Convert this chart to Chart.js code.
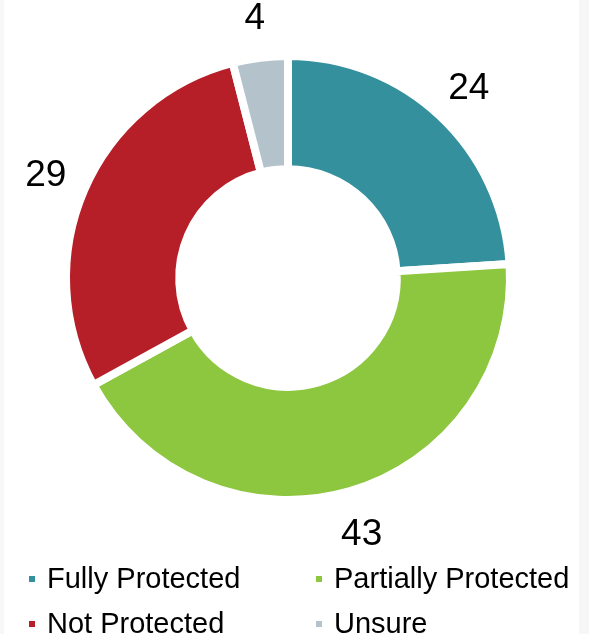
<!DOCTYPE html>
<html>
<head>
<meta charset="utf-8">
<script src="https://cdn.jsdelivr.net/npm/chart.js@4/dist/chart.umd.min.js"></script>
<style>
  html, body { margin: 0; padding: 0; background: #f7f7f7; }
  #wrap { position: relative; width: 589px; height: 634px; overflow: hidden; }
  #panel { position: absolute; left: 4px; top: 0; width: 575px; height: 634px; background: #fff; }
  #myChart { position: absolute; left: 0; top: 0; }
</style>
</head>
<body>
<div id="wrap">
  <div id="panel"></div>
  <canvas id="myChart" width="589" height="634"></canvas>
</div>
<script>
'use strict';

const categories = ['Fully Protected', 'Partially Protected', 'Not Protected', 'Unsure'];
const values = [24, 43, 29, 4];
const colors = ['#35909e', '#8dc63f', '#b71f28', '#b4c2cc'];

const FONT = '"Liberation Sans", Arial, sans-serif';

// numbers sitting just outside each slice
const outsideLabels = {
  id: 'outsideLabels',
  afterDatasetsDraw(chart) {
    const ctx = chart.ctx;
    const meta = chart.getDatasetMeta(0);
    const fs = 37;
    ctx.save();
    ctx.font = fs + 'px ' + FONT;
    ctx.fillStyle = '#000';
    ctx.textAlign = 'center';
    ctx.textBaseline = 'alphabetic';
    meta.data.forEach((arc, i) => {
      const p = arc.getProps(['x', 'y', 'startAngle', 'endAngle', 'outerRadius'], true);
      const mid = (p.startAngle + p.endAngle) / 2;
      const r = p.outerRadius + 42;
      const x = p.x + r * Math.cos(mid);
      const y = p.y + r * Math.sin(mid);
      ctx.fillText(String(chart.data.datasets[0].data[i]), x, y + fs * 0.358);
    });
    ctx.restore();
  }
};

// two-column legend under the ring
const gridLegend = {
  id: 'gridLegend',
  afterDraw(chart) {
    const ctx = chart.ctx;
    const fs = 29;
    const colX = [32, 319];
    const rowY = [578, 623];
    ctx.save();
    ctx.font = fs + 'px ' + FONT;
    ctx.textBaseline = 'alphabetic';
    ctx.textAlign = 'left';
    chart.data.labels.forEach((lab, i) => {
      const cx = colX[i % 2];
      const cy = rowY[Math.floor(i / 2)];
      ctx.fillStyle = chart.data.datasets[0].backgroundColor[i];
      ctx.fillRect(cx - 3, cy - 2, 6, 6);
      ctx.fillStyle = '#000';
      ctx.fillText(lab, cx + 15, cy + fs * 0.358);
    });
    ctx.restore();
  }
};

new Chart('myChart', {
  type: 'doughnut',
  data: {
    labels: categories,
    datasets: [{
      data: values,
      backgroundColor: colors,
      borderColor: '#ffffff',
      borderWidth: 8,
      radius: 222,
      cutout: '49%'
    }]
  },
  options: {
    responsive: false,
    animation: false,
    layout: { padding: { left: 66, right: 79, top: 56, bottom: 134 } },
    plugins: {
      legend: { display: false },
      tooltip: { enabled: false }
    }
  },
  plugins: [outsideLabels, gridLegend]
});
</script>
</body>
</html>
